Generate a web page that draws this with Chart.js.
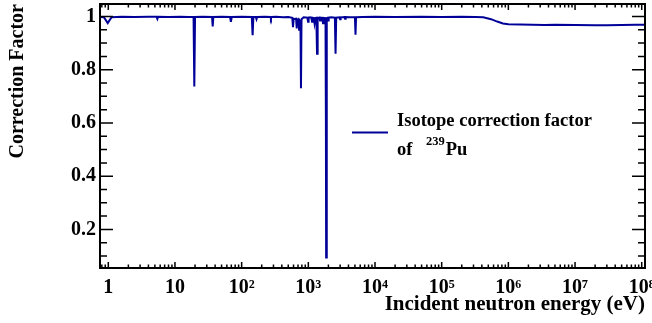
<!DOCTYPE html>
<html>
<head>
<meta charset="utf-8">
<script src="https://cdn.jsdelivr.net/npm/chart.js@4"></script>
<style>
  html, body { margin: 0; padding: 0; background: #fff; }
  #wrap { width: 652px; height: 323px; position: relative; }
</style>
</head>
<body>
<div id="wrap"><canvas id="corrChart"></canvas></div>
<script>
// neutron energy (eV) and correction factor
const energies = [
  0.751, 0.86, 0.98, 1.12, 1.6, 2.5, 4.0, 5.3, 5.45, 5.6,
  8.0, 12, 16, 19.0, 19.5, 20.0, 26, 36.0, 36.8, 37.6,
  50, 67, 69, 71, 100, 142, 146, 150, 163, 167,
  171, 220, 270, 275, 280, 330, 420, 500, 575, 589,
  603, 655, 670, 685, 715, 727, 740, 762, 776, 790,
  850, 970, 990, 1010, 1060, 1110, 1136, 1160, 1210, 1239,
  1270, 1320, 1350, 1380, 1460, 1497, 1530, 1620, 1660, 1700,
  1810, 1835, 1850, 1890, 1930, 1973, 2020, 2200, 2500, 2560,
  2620, 2930, 2990, 3050, 3470, 3550, 3630, 4200, 5000, 5100,
  5200, 6500, 1e4, 2e4, 5e4, 1e5, 2e5, 3.2e5, 4.2e5, 5.5e5,
  6.8e5, 8.3e5, 1.0e6, 1.5e6, 2.3e6, 3.5e6, 5e6, 1e7, 2e7, 3e7,
  5e7, 8e7, 1.12e8
];
const factors = [
  0.998, 0.997, 0.975, 0.997, 0.999, 0.998, 0.999, 0.999, 0.991, 0.999,
  0.998, 0.999, 0.998, 0.998, 0.737, 0.998, 0.999, 0.998, 0.963, 0.998,
  0.999, 0.998, 0.980, 0.998, 0.999, 0.998, 0.930, 0.998, 0.998, 0.990,
  0.998, 0.999, 0.998, 0.992, 0.998, 0.999, 0.997, 0.998, 0.995, 0.960,
  0.990, 0.992, 0.955, 0.990, 0.990, 0.950, 0.985, 0.980, 0.730, 0.990,
  0.997, 0.996, 0.980, 0.996, 0.997, 0.995, 0.980, 0.995, 0.994, 0.975,
  0.994, 0.995, 0.860, 0.995, 0.996, 0.985, 0.996, 0.995, 0.975, 0.995,
  0.994, 0.600, 0.094, 0.994, 0.995, 0.985, 0.996, 0.997, 0.996, 0.860,
  0.996, 0.997, 0.990, 0.997, 0.998, 0.992, 0.998, 0.997, 0.997, 0.932,
  0.997, 0.998, 0.999, 0.998, 0.999, 0.998, 0.999, 0.998, 0.997, 0.990,
  0.981, 0.974, 0.971, 0.970, 0.969, 0.968, 0.969, 0.968, 0.967, 0.967,
  0.968, 0.969, 0.969
];

const xTickValues = [1, 10, 1e2, 1e3, 1e4, 1e5, 1e6, 1e7, 1e8];
const xTickLabels = ['1', '10', '10\u00B2', '10\u00B3', '10\u2074', '10\u2075', '10\u2076', '10\u2077', '10\u2078'];
const yTickValues = [0.2, 0.4, 0.6, 0.8, 1];
const yTickLabels = ['0.2', '0.4', '0.6', '0.8', '1'];

const xTitle = 'Incident neutron energy (eV)';
const yTitle = 'Correction Factor';
const legendLines = ['Isotope correction factor', 'of', '239', 'Pu'];

const serif = '"Liberation Serif", "Times New Roman", serif';
const lineColor = '#000099';

// ROOT style frame with inward ticks on all four sides
const frameTicks = {
  id: 'frameTicks',
  afterDraw(chart) {
    const { ctx, chartArea: a, scales: { x, y } } = chart;
    ctx.save();
    ctx.strokeStyle = '#000';
    ctx.lineWidth = 1.5;
    ctx.beginPath();
    for (let n = -1; n <= 8; n++) {
      for (let k = 1; k <= 9; k++) {
        const v = k * Math.pow(10, n);
        if (v < x.min || v > x.max) continue;
        const px = x.getPixelForValue(v);
        const len = k === 1 ? 6 : 3.5;
        ctx.moveTo(px, a.bottom); ctx.lineTo(px, a.bottom - len);
        ctx.moveTo(px, a.top); ctx.lineTo(px, a.top + len);
      }
    }
    for (let i = 1; i <= 20; i++) {
      const v = i * 0.05;
      if (v < y.min || v > y.max) continue;
      const py = y.getPixelForValue(v);
      const len = i % 4 === 0 ? 13 : 7;
      ctx.moveTo(a.left, py); ctx.lineTo(a.left + len, py);
      ctx.moveTo(a.right, py); ctx.lineTo(a.right - len, py);
    }
    ctx.stroke();
    ctx.lineWidth = 2;
    ctx.strokeRect(a.left, a.top, a.right - a.left, a.bottom - a.top);
    ctx.restore();
  }
};

const rootLegend = {
  id: 'rootLegend',
  afterDraw(chart) {
    const { ctx } = chart;
    ctx.save();
    ctx.strokeStyle = chart.data.datasets[0].borderColor;
    ctx.lineWidth = 2;
    ctx.beginPath();
    ctx.moveTo(352, 132.5); ctx.lineTo(388, 132.5);
    ctx.stroke();
    ctx.fillStyle = '#000';
    ctx.textBaseline = 'alphabetic';
    ctx.font = 'bold 18.5px ' + serif;
    ctx.fillText(legendLines[0], 397, 126);
    ctx.fillText(legendLines[1], 397, 155);
    ctx.font = 'bold 12.5px ' + serif;
    ctx.fillText(legendLines[2], 426, 145);
    const w = ctx.measureText(legendLines[2]).width;
    ctx.font = 'bold 18.5px ' + serif;
    ctx.fillText(legendLines[3], 426 + w + 1, 155);
    ctx.restore();
  }
};

new Chart(document.getElementById('corrChart'), {
  type: 'line',
  data: {
    datasets: [{
      label: legendLines[0],
      data: energies.map((e, i) => ({ x: e, y: factors[i] })),
      borderColor: lineColor,
      borderWidth: 2,
      pointRadius: 0,
      tension: 0,
      fill: false
    }]
  },
  options: {
    responsive: true,
    maintainAspectRatio: false,
    animation: false,
    layout: { padding: { left: 0, right: 7, top: 4, bottom: 0 } },
    plugins: {
      legend: { display: false },
      tooltip: { enabled: false }
    },
    scales: {
      x: {
        type: 'logarithmic',
        min: 0.751,
        max: 1.12e8,
        grid: { display: false, drawTicks: false },
        border: { display: false },
        afterBuildTicks: s => { s.ticks = xTickValues.map(v => ({ value: v })); },
        afterFit: s => { s.height = 55; s.paddingLeft = 0; s.paddingRight = 0; },
        ticks: {
          autoSkip: false,
          maxRotation: 0,
          padding: 8,
          color: '#000',
          font: { family: serif, size: 20, weight: 'bold' },
          callback: v => xTickLabels[xTickValues.indexOf(v)]
        },
        title: {
          display: true,
          text: xTitle,
          align: 'end',
          color: '#000',
          font: { family: serif, size: 21, weight: 'bold' },
          padding: { top: 0, bottom: 6 }
        }
      },
      y: {
        min: 0.055,
        max: 1.047,
        grid: { display: false, drawTicks: false },
        border: { display: false },
        afterBuildTicks: s => { s.ticks = yTickValues.map(v => ({ value: v })); },
        afterFit: s => { s.width = 100; s.paddingTop = 0; s.paddingBottom = 0; },
        ticks: {
          padding: 4,
          color: '#000',
          font: { family: serif, size: 20, weight: 'bold' },
          callback: v => yTickLabels[yTickValues.indexOf(v)]
        },
        title: {
          display: true,
          text: yTitle,
          align: 'end',
          color: '#000',
          font: { family: serif, size: 20, weight: 'bold' },
          padding: { top: 6, bottom: 0 }
        }
      }
    }
  },
  plugins: [frameTicks, rootLegend]
});
</script>
</body>
</html>
